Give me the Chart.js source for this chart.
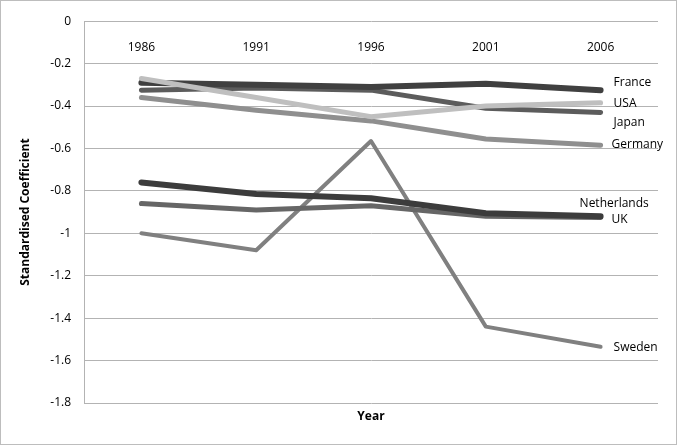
<!DOCTYPE html>
<html>
<head>
<meta charset="utf-8">
<script src="https://cdn.jsdelivr.net/npm/chart.js@4.4.0/dist/chart.umd.min.js"></script>
<style>
  html, body { margin: 0; padding: 0; background: #fff; }
  #wrap { width: 677px; height: 445px; box-sizing: border-box; border: 1px solid #bdbdbd; }
  canvas { display: block; }
</style>
</head>
<body>
<div id="wrap"><canvas id="chart" width="675" height="443"></canvas></div>
<script>
// Data
const years = ['1986', '1991', '1996', '2001', '2006'];
const countries = ['USA', 'France', 'Netherlands', 'Japan', 'UK', 'Germany', 'Sweden'];
const usa = [-0.27, -0.36, -0.45, -0.40, -0.385];
const france = [-0.29, -0.30, -0.31, -0.295, -0.325];
const netherlands = [-0.76, -0.815, -0.835, -0.905, -0.92];
const japan = [-0.325, -0.315, -0.325, -0.41, -0.43];
const uk = [-0.86, -0.89, -0.87, -0.92, -0.925];
const germany = [-0.36, -0.42, -0.47, -0.555, -0.585];
const sweden = [-1.0, -1.08, -0.565, -1.44, -1.535];

// Styles
const seriesValues = [usa, france, netherlands, japan, uk, germany, sweden];
const colors = ['#bfbfbf', '#404040', '#3c3c3c', '#5c5c5c', '#666666', '#8f8f8f', '#808080'];
const widths = [5, 6, 6, 5, 5, 5, 4];
// label offsets from the last point (px)
const labelOffsets = [[13, 1], [13, -8], [-21, -13], [13, 10], [11, 2], [11, -1], [13, 1]];

const datasets = countries.map((name, i) => ({
    label: name,
    data: seriesValues[i],
    borderColor: colors[i],
    backgroundColor: colors[i],
    borderWidth: widths[i],
    borderCapStyle: 'round',
    borderJoinStyle: 'round',
    pointRadius: 0,
    tension: 0,
    fill: false
}));

const FONT = '"Open Sans", "DejaVu Sans", sans-serif';

const endLabels = {
    id: 'endLabels',
    afterDatasetsDraw(chart) {
        const ctx = chart.ctx;
        ctx.save();
        ctx.font = '12px ' + FONT;
        ctx.fillStyle = '#000';
        ctx.textAlign = 'left';
        ctx.textBaseline = 'middle';
        chart.data.datasets.forEach((ds, i) => {
            const pt = chart.getDatasetMeta(i).data[ds.data.length - 1];
            ctx.fillText(ds.label, pt.x + labelOffsets[i][0], pt.y + labelOffsets[i][1]);
        });
        // x axis title
        ctx.font = 'bold 12px ' + FONT;
        ctx.textAlign = 'center';
        const a = chart.chartArea;
        ctx.fillText('Year', (a.left + a.right) / 2, a.bottom + 14);
        ctx.restore();
    }
};

new Chart(document.getElementById('chart'), {
    type: 'line',
    data: { labels: years, datasets: datasets },
    options: {
        responsive: false,
        animation: false,
        layout: { padding: { left: 0, top: 16, right: 18, bottom: 41 } },
        plugins: {
            legend: { display: false },
            tooltip: { enabled: false }
        },
        scales: {
            x: {
                position: { y: 0 },
                offset: true,
                grid: { display: false, drawTicks: false },
                border: { display: false },
                ticks: { color: '#000', padding: 19, font: { family: FONT, size: 12 } }
            },
            y: {
                min: -1.8,
                max: 0,
                ticks: {
                    stepSize: 0.2,
                    color: '#000',
                    padding: 13,
                    font: { family: FONT, size: 12 },
                    callback: v => String(Math.round(v * 10) / 10)
                },
                grid: { color: '#b3b3b3', lineWidth: 1, drawTicks: false },
                border: { display: true, color: '#b3b3b3' },
                title: {
                    display: true,
                    text: 'Standardised Coefficient',
                    color: '#000',
                    font: { family: FONT, size: 12, weight: 'bold' },
                    padding: { top: 17, bottom: 0 }
                },
                afterFit(scale) { scale.width = 83; }
            }
        }
    },
    plugins: [endLabels]
});
</script>
</body>
</html>
